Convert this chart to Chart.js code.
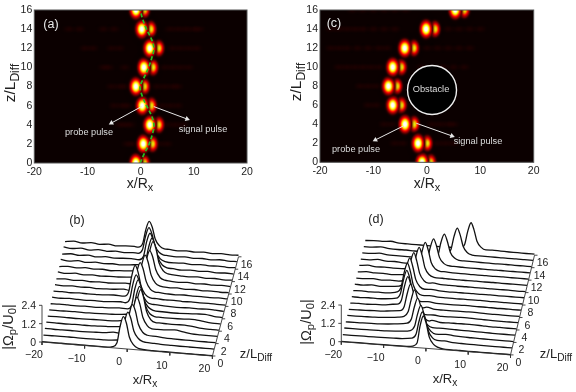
<!DOCTYPE html>
<html><head><meta charset="utf-8">
<script src="https://cdn.jsdelivr.net/npm/chart.js@4"></script>
<style>
html,body{margin:0;padding:0;background:#fff;width:576px;height:392px;overflow:hidden}
#stage{position:relative;width:576px;height:392px;font-family:"Liberation Sans",Arial,sans-serif;color:#222;filter:blur(.3px)}
canvas{position:absolute}
.t{position:absolute;white-space:nowrap;transform:translate(-50%,-50%);line-height:1}
.t sub{font-size:.78em;vertical-align:-.32em;line-height:0}
</style></head><body><div id="stage"></div>
<script>
// ---------- heat maps ----------
const xTicks=[-20,-10,0,10,20];
const zTicksHeat=[0,2,4,6,8,10,12,14,16];
const probeA=[-0.9,0.5,1.7,0.3,-0.9,0.6,1.7,0.2,-0.9];
const signalA=[0.7,2.2,3.4,2.0,0.7,2.3,3.4,1.9,0.7];
const probeC=[-0.9,-1.65,-4.1,-6.4,-7.2,-6.4,-4.15,-0.15,5.3];
const signalC=[0.7,0.03,-2.4,-4.8,-5.6,-4.8,-2.45,1.5,7.0];
const guideZ=[0,1,2,3,4,5,6,7,8,9,10,11,12,13,14,15,16];
const guideX=[-0.1,0.7,1.6,2.2,2.5,2.0,1.1,0.3,-0.1,0.7,1.5,2.1,2.5,2.0,1.1,0.4,-0.1];
const lobesA=[[14,-13.5],[14,-11.5],[14,-7],[14,-5],[14,5.5],[14,7],[14,8.5],[14,10],[14,11],
[12,-10.5],[12,-9],[12,-5.5],[12,-4],[12,6],[12,7.5],[12,9],[12,10.5],
[10,-7],[10,-6],[10,-3],[10,4.5],[10,6],[10,7.5],[10,9],
[8,-5.5],[8,-4],[8,-3],[8,3],[8,4.5],[8,6],[8,7],
[6,-5],[6,-3.5],[6,-2.5],[6,4],[6,5.5],[6,7],
[4,-4],[4,-3],[4,-2],[4,5],[4,6.5],[4,8],
[2,-2.5],[2,-1.5],[2,3.5],[2,5]];
const lobesC=[[16,-14],[16,-12],[16,-10],[16,-8],[16,-6],[16,-4],
[14,-18],[14,-16.5],[14,-15],[14,-13.5],[14,-12],[14,-10],[14,-8],[14,-6],[14,4],[14,6],[14,8],[14,10],
[12,-18],[12,-16.5],[12,-15],[12,-13],[12,-11],[12,-9],[12,-7.5],[12,0],[12,2],[12,4],[12,6],[12,8],
[10,-16.5],[10,-15],[10,-13.5],[10,-12],[10,-10.5],[10,-9],[10,-1],[10,3],[10,5],[10,7],
[8,-12.5],[8,-11],[8,-9.5],[6,-11],[6,-9.5],
[4,-8],[4,-6.5],[4,1],[4,2.5],[4,4],[4,5],
[2,-6],[2,-4.5],[2,2],[2,3.5],[2,5]];
const arrowsA=[{x:[0.16,-5.5],z:[5.9,4.18],turn:-119},{x:[2.47,8.73],z:[5.9,4.6],turn:110}];
const arrowsC=[{x:[-4.46,-9.64],z:[3.8,2.35],turn:-117},{x:[-1.97,4.7],z:[4.1,2.77],turn:109.5}];
const obstacleX=[0.97], obstacleZ=[7.6];

// ---------- waterfalls ----------
const bgGridX=[-20,-18,-16,-14,-12,-10,-8,-6,-4,-2,0,2,4,6,8,10,12,14,16,18,20];
const peakOffsets=[-2.5,-1.5,-0.8,0,0.7,1.4,2.4,3.5];
const xTicksFall=[-20,-10,0,10,20];
const zTicksFall=[0,2,4,6,8,10,12,14,16];
const uTicksFall=[0,1.2,2.4];
const centreB=[-0.9,-0.2,0.5,1.2,1.7,1.1,0.4,-0.4,-1.0,-0.2,0.6,1.3,1.7,1.1,0.3,-0.3,-0.6];
const peakB=[
[.08,.35,1.4,2.1,1.7,.8,.3,.1],[.12,.4,1.35,2.0,1.6,.8,.35,.15],[.15,.45,1.4,2.1,1.7,.85,.35,.18],
[.14,.42,1.5,2.2,1.75,.9,.4,.2],[.14,.45,1.6,2.3,1.8,.9,.38,.22],[.13,.42,1.45,2.1,1.7,.85,.36,.2],
[.14,.42,1.45,2.1,1.65,.82,.36,.18],[.12,.4,1.35,2.0,1.6,.8,.32,.16],[.13,.45,1.5,2.2,1.75,.85,.34,.16],
[.12,.4,1.35,2.0,1.6,.8,.3,.15],[.13,.42,1.45,2.1,1.65,.82,.32,.15],[.12,.4,1.35,2.0,1.6,.8,.3,.15],
[.13,.45,1.5,2.2,1.75,.85,.34,.16],[.12,.4,1.35,2.0,1.6,.78,.3,.14],[.11,.36,1.3,1.9,1.5,.72,.28,.13],
[.11,.36,1.25,1.85,1.45,.7,.28,.13],[.1,.36,1.25,1.85,1.5,.72,.3,.13]];
const bgB=[
[.02,.02,.02,.02,.02,.02,.02,.02,.03,.04,.05,.06,.05,.03,.03,.02,.02,.02,.02,.02,.02],
[.05,.05,.05,.06,.05,.05,.06,.06,.08,.1,.2,.2,.12,.1,.07,.06,.05,.05,.05,.05,.05],
[.08,.07,.08,.08,.07,.08,.1,.12,.2,.2,.2,.2,.2,.15,.1,.08,.07,.07,.06,.06,.06],
[.08,.08,.07,.08,.09,.08,.1,.12,.15,.2,.2,.2,.25,.2,.22,.26,.18,.1,.08,.07,.07],
[.07,.08,.08,.07,.08,.09,.1,.1,.13,.2,.2,.2,.25,.22,.2,.2,.22,.16,.09,.07,.07],
[.08,.07,.08,.09,.08,.09,.1,.12,.14,.2,.2,.2,.2,.18,.17,.18,.2,.22,.14,.08,.07],
[.07,.09,.08,.07,.09,.08,.1,.12,.16,.2,.2,.2,.2,.14,.12,.13,.15,.18,.2,.12,.08],
[.09,.07,.1,.08,.07,.1,.08,.12,.16,.2,.2,.2,.16,.12,.1,.1,.12,.11,.13,.11,.08],
[.08,.1,.07,.1,.08,.09,.11,.15,.2,.2,.2,.2,.14,.1,.12,.09,.11,.09,.11,.09,.08],
[.1,.07,.11,.08,.1,.07,.1,.12,.18,.2,.2,.2,.14,.1,.08,.11,.08,.1,.08,.1,.08],
[.07,.12,.07,.11,.07,.1,.08,.12,.16,.2,.2,.2,.15,.1,.12,.08,.11,.07,.1,.07,.09],
[.12,.07,.13,.07,.11,.08,.11,.11,.15,.2,.2,.2,.18,.12,.08,.12,.08,.11,.08,.11,.08],
[.07,.13,.07,.13,.08,.12,.07,.12,.15,.2,.2,.2,.2,.14,.1,.08,.12,.08,.11,.07,.1],
[.13,.07,.14,.07,.13,.08,.12,.09,.14,.2,.2,.2,.18,.12,.07,.12,.08,.12,.07,.11,.08],
[.07,.14,.08,.14,.07,.13,.08,.12,.14,.2,.2,.2,.14,.09,.12,.07,.12,.08,.11,.08,.1],
[.14,.08,.15,.07,.14,.08,.13,.08,.13,.2,.2,.2,.12,.08,.12,.08,.11,.07,.12,.08,.09],
[.08,.15,.08,.15,.08,.14,.07,.12,.13,.2,.2,.2,.12,.07,.11,.08,.12,.07,.11,.08,.1]];
const centreD=[-0.6,-1.2,-1.9,-3.0,-4.1,-5.4,-6.4,-7.0,-7.2,-7.0,-6.4,-5.5,-4.4,-2.8,-0.6,2.1,5.0];
const peakD=[
[.08,.3,1.4,2.1,1.6,.75,.3,.12],[.18,.45,1.3,1.95,1.5,.75,.3,.16],[.25,.55,1.35,1.95,1.45,.72,.3,.15],
[.3,.6,1.4,2.0,1.5,.7,.28,.14],[.32,.65,1.45,2.1,1.55,.72,.3,.14],[.25,.55,1.4,2.05,1.5,.7,.28,.13],
[.25,.55,1.45,2.1,1.6,.72,.28,.13],[.22,.55,1.45,2.1,1.6,.72,.28,.12],[.22,.55,1.5,2.15,1.62,.74,.28,.12],
[.2,.5,1.45,2.1,1.55,.72,.26,.12],[.18,.48,1.4,2.05,1.5,.7,.26,.12],[.18,.45,1.35,2.0,1.5,.68,.26,.12],
[.14,.42,1.3,1.95,1.45,.66,.25,.12],[.12,.38,1.2,1.8,1.35,.62,.25,.12],[.12,.36,1.2,1.75,1.3,.6,.24,.11],
[.11,.36,1.2,1.8,1.35,.62,.24,.11],[.1,.36,1.2,1.8,1.35,.62,.24,.1]];
const bgD=[
[.02,.02,.02,.02,.02,.02,.02,.03,.03,.04,.05,.06,.05,.03,.03,.02,.02,.02,.02,.02,.02],
[.05,.05,.06,.06,.07,.08,.09,.1,.13,.2,.2,.2,.16,.1,.08,.07,.06,.05,.05,.05,.05],
[.08,.08,.08,.09,.1,.11,.14,.18,.22,.3,.2,.2,.18,.13,.1,.09,.08,.07,.06,.06,.06],
[.08,.08,.09,.1,.11,.15,.2,.28,.3,.3,.2,.14,.14,.12,.11,.1,.09,.08,.07,.07,.07],
[.09,.09,.1,.11,.13,.18,.24,.3,.3,.3,.2,.1,.12,.12,.13,.12,.1,.08,.08,.07,.07],
[.08,.09,.1,.12,.13,.2,.28,.3,.3,.3,.14,.09,.1,.12,.13,.1,.09,.08,.07,.07,.07],
[.08,.1,.09,.12,.14,.22,.3,.3,.3,.2,.1,.09,.09,.1,.11,.1,.08,.08,.07,.07,.07],
[.09,.08,.11,.1,.13,.2,.3,.3,.3,.16,.09,.08,.08,.09,.1,.08,.09,.07,.08,.07,.07],
[.08,.11,.08,.11,.1,.18,.3,.3,.3,.14,.09,.08,.07,.08,.08,.09,.07,.08,.07,.07,.07],
[.1,.08,.13,.08,.12,.12,.3,.3,.3,.14,.09,.07,.08,.07,.08,.07,.08,.07,.07,.07,.07],
[.08,.1,.14,.08,.12,.1,.25,.3,.3,.16,.09,.08,.07,.08,.07,.08,.07,.07,.07,.06,.07],
[.08,.14,.1,.12,.08,.12,.2,.3,.3,.18,.1,.08,.08,.07,.08,.07,.08,.07,.07,.07,.06],
[.1,.16,.09,.12,.09,.1,.14,.2,.3,.2,.12,.09,.08,.08,.07,.08,.07,.08,.07,.07,.07],
[.1,.1,.17,.1,.12,.08,.1,.12,.15,.3,.16,.1,.09,.08,.08,.07,.08,.07,.07,.07,.07],
[.1,.11,.17,.1,.1,.09,.08,.09,.1,.14,.3,.14,.1,.09,.08,.08,.07,.08,.07,.07,.07],
[.11,.12,.17,.11,.09,.1,.08,.08,.08,.1,.12,.2,.2,.12,.09,.08,.08,.07,.08,.07,.07],
[.1,.14,.13,.18,.1,.09,.09,.08,.08,.08,.09,.1,.14,.22,.2,.12,.09,.08,.08,.07,.07]];

// ---------- layout and style ----------
const frames={a:{l:0,t:0,left:34.3,right:41,top:10,bottom:33},c:{l:288,t:0,left:32,right:42.3,top:10,bottom:33.7}};
const projB={ox:42,oy:146,xx:4.26,xy:.35,zx0:1.44,zx1:1.63,zy:-6.2,uy:-15.28};
const projD={ox:53.3,oy:145.7,xx:4.23,xy:.33,zx0:1.5,zx1:1.5,zy:-6.23,uy:-15.28};
const stage=document.getElementById('stage');
function makeCanvas(l,t){const c=document.createElement('canvas');c.width=288;c.height=196;c.style.left=l+'px';c.style.top=t+'px';c.style.width='288px';c.style.height='196px';stage.appendChild(c);return c}
function label(html,x,y,size,color,rot,align){const d=document.createElement('div');d.className='t';d.innerHTML=html;d.style.left=x+'px';d.style.top=y+'px';d.style.fontSize=size+'px';if(color)d.style.color=color;
 let tr=align==='right'?'translate(-100%,-50%)':'translate(-50%,-50%)';if(rot)tr+=` rotate(${rot}deg)`;d.style.transform=tr;stage.appendChild(d)}
function sprite(w,h,sx,sy,peak,faint){const c=document.createElement('canvas');c.width=w;c.height=h;const g=c.getContext('2d'),im=g.createImageData(w,h);
 for(let j=0;j<h;j++)for(let i=0;i<w;i++){const dx=(i+.5-w/2)/sx,dy=(j+.5-h/2)/sy,I=peak*Math.exp(-(dx*dx+dy*dy)/2),k=(j*w+i)*4;
  if(faint){im.data[k]=90;im.data[k+1]=0;im.data[k+2]=0;im.data[k+3]=255*I}
  else{im.data[k]=255*Math.min(1,I/.36);im.data[k+1]=255*Math.max(0,Math.min(1,(I-.36)/.36));im.data[k+2]=255*Math.max(0,Math.min(1,(I-.72)/.28));im.data[k+3]=255*Math.min(1,I*8)}}
 g.putImageData(im,0,0);return c}
const probeSprite=sprite(26,34,3.2,4.5,1.08,false), signalSprite=sprite(24,32,2.9,4.2,.76,false), lobeSprite=sprite(16,10,3.2,2,.22,true);
const plotBg={id:'plotBg',beforeDatasetsDraw(ch){const {ctx,chartArea:a}=ch;ctx.save();ctx.fillStyle='#0b0000';ctx.fillRect(a.left,a.top,a.width,a.height);ctx.restore()}};
const frameLine={id:'frameLine',afterDatasetsDraw(ch){const {ctx,chartArea:a}=ch;ctx.save();ctx.strokeStyle='#555';ctx.lineWidth=1;ctx.strokeRect(a.left,a.top,a.width,a.height);ctx.restore()}};
const noPad=s=>{s.paddingTop=s.paddingBottom=s.paddingLeft=s.paddingRight=0};

function heat(f,probe,signal,lobes,arrows,extra){
 const ds=[];
 arrows.forEach(a=>ds.push({data:a.x.map((x,i)=>({x,y:a.z[i]})),showLine:true,borderColor:'#e6e6e6',backgroundColor:'#e6e6e6',borderWidth:1,pointStyle:'triangle',pointRadius:[0,3],pointBorderWidth:0,pointRotation:a.turn,order:0}));
 (extra||[]).forEach(e=>ds.push(e));
 ds.push({data:probe.map((x,i)=>({x,y:zTicksHeat[i]})),pointStyle:probeSprite,pointRadius:12,showLine:false,order:3});
 ds.push({data:signal.map((x,i)=>({x,y:zTicksHeat[i]})),pointStyle:signalSprite,pointRadius:12,showLine:false,order:4});
 ds.push({data:lobes.map(p=>({x:p[1],y:p[0]})),pointStyle:lobeSprite,pointRadius:6,showLine:false,order:5});
 const font={family:'"Liberation Sans",Arial,sans-serif',size:10.5};
 const grid={display:false,drawTicks:false,tickLength:0};
 return new Chart(makeCanvas(f.l,f.t),{type:'scatter',data:{datasets:ds},plugins:[plotBg,frameLine],
  options:{responsive:false,animation:false,devicePixelRatio:1,events:[],layout:{autoPadding:false,padding:{left:0,top:f.top,right:f.right,bottom:0}},
   plugins:{legend:{display:false},tooltip:{enabled:false}},
   scales:{x:{type:'linear',min:-20,max:20,afterFit(s){s.height=f.bottom;noPad(s)},afterBuildTicks(s){s.ticks=xTicks.map(v=>({value:v}))},grid,border:{display:false},ticks:{color:'#222',font,padding:3,maxRotation:0,autoSkip:false,callback:v=>String(v)}},
    y:{type:'linear',min:0,max:16,afterFit(s){s.width=f.left;noPad(s)},afterBuildTicks(s){s.ticks=zTicksHeat.map(v=>({value:v}))},grid,border:{display:false},ticks:{color:'#222',font,padding:2,autoSkip:false,callback:v=>String(v)}}}}});
}
heat(frames.a,probeA,signalA,lobesA,arrowsA,[{data:guideX.map((x,i)=>({x,y:guideZ[i]})),showLine:true,borderColor:'#22c022',borderWidth:1.7,borderDash:[4,2.5],pointRadius:0,tension:.35,order:1}]);
heat(frames.c,probeC,signalC,lobesC,arrowsC,[{data:obstacleX.map((x,i)=>({x,y:obstacleZ[i]})),pointStyle:'circle',pointRadius:24.5,backgroundColor:'#000',borderColor:'#eee',borderWidth:1.4,order:2}]);

function fall(l,t,p,centre,peaks,bg){
 const P=(x,z,u)=>{const k=(x+20)/40;return {x:p.ox+(x+20)*p.xx+z*(p.zx0+(p.zx1-p.zx0)*k),y:p.oy+(x+20)*p.xy+z*p.zy+u*p.uy}};
 const ds=[];
 centre.forEach((c,z)=>{
  const pts=[];
  bgGridX.forEach((x,i)=>{if(x<c-3||x>c+4)pts.push([x,bg[z][i]])});
  peakOffsets.forEach((o,i)=>pts.push([c+o,peaks[z][i]]));
  pts.sort((a,b)=>a[0]-b[0]);
  ds.push({data:pts.map(q=>P(q[0],z,q[1])),borderColor:'#111',borderWidth:1.3,pointRadius:0,cubicInterpolationMode:'monotone',fill:'+1',backgroundColor:'#fff',order:z+1});
  ds.push({data:pts.map(q=>P(q[0],z,0)),borderWidth:0,borderColor:'rgba(0,0,0,0)',pointRadius:0,fill:false,order:z+1});
 });
 const axis=(pts)=>ds.push({data:pts,borderColor:'#333',borderWidth:.9,pointRadius:0,fill:false,order:0,spanGaps:false});
 axis([P(-20,0,0),P(20,0,0)]);
 axis([P(-20,0,uTicksFall[0]),P(-20,0,uTicksFall[2])]);
 axis([P(20,0,0),P(20,16,0)]);
 xTicksFall.forEach(v=>{const a=P(v,0,0);axis([a,{x:a.x,y:a.y+3}])});
 uTicksFall.forEach(v=>{const a=P(-20,0,v);axis([a,{x:a.x-3,y:a.y}])});
 zTicksFall.forEach(v=>{const a=P(20,v,0);axis([a,{x:a.x+3,y:a.y}])});
 const ch=new Chart(makeCanvas(l,t),{type:'line',data:{datasets:ds},
  options:{responsive:false,animation:false,devicePixelRatio:1,events:[],layout:{autoPadding:false,padding:0},plugins:{legend:{display:false},tooltip:{enabled:false}},
   scales:{x:{type:'linear',min:0,max:288,display:false},y:{type:'linear',min:0,max:196,reverse:true,display:false}}}});
 const sx=q=>l+ch.scales.x.getPixelForValue(q.x), sy=q=>t+ch.scales.y.getPixelForValue(q.y);
 xTicksFall.forEach(v=>{const a=P(v,0,0);label(String(v).replace('-','\u2212'),sx(a)-8,sy(a)+12,10.5,'#222')});
 uTicksFall.forEach(v=>{const a=P(-20,0,v);label(String(v),sx(a)-6,sy(a),10.5,'#222',0,'right')});
 zTicksFall.forEach(v=>{const a=P(20,v,0);label(String(v),sx(a)+8,sy(a)+7,10.5,'#222')});
}
fall(0,196,projB,centreB,peakB,bgB);
fall(288,196,projD,centreD,peakD,bgD);

// ---------- text ----------
const zHeat='z/L<sub>Diff</sub>', xHeat='x/R<sub>x</sub>', uTitle='|&Omega;<sub>p</sub>/U<sub>0</sub>|';
label(xHeat,140,183,14);label(xHeat,427,183,14);
label(zHeat,10,83,15.5,null,-90);label(zHeat,296,82,15.5,null,-90);
label('(a)',51,24,12.5,'#e8e8e8');label('(c)',334,23,12.5,'#e8e8e8');
label('probe pulse',89,133,9.2,'#ddd');label('signal pulse',203,130,9.2,'#ddd');
label('probe pulse',356,150,9.2,'#ddd');label('signal pulse',478,142,9.2,'#ddd');
label('Obstacle',431,90,9.3,'#ddd');
label('(b)',77,220,12.5);label('(d)',376,219,12.5);
label(xHeat,145,379,13);label(xHeat,445,378,13);
label(zHeat,256,353,13);label(zHeat,556,353,13);
label(uTitle,8,327,14.5,null,-90);label(uTitle,306,322,14.5,null,-90);
</script></body></html>
